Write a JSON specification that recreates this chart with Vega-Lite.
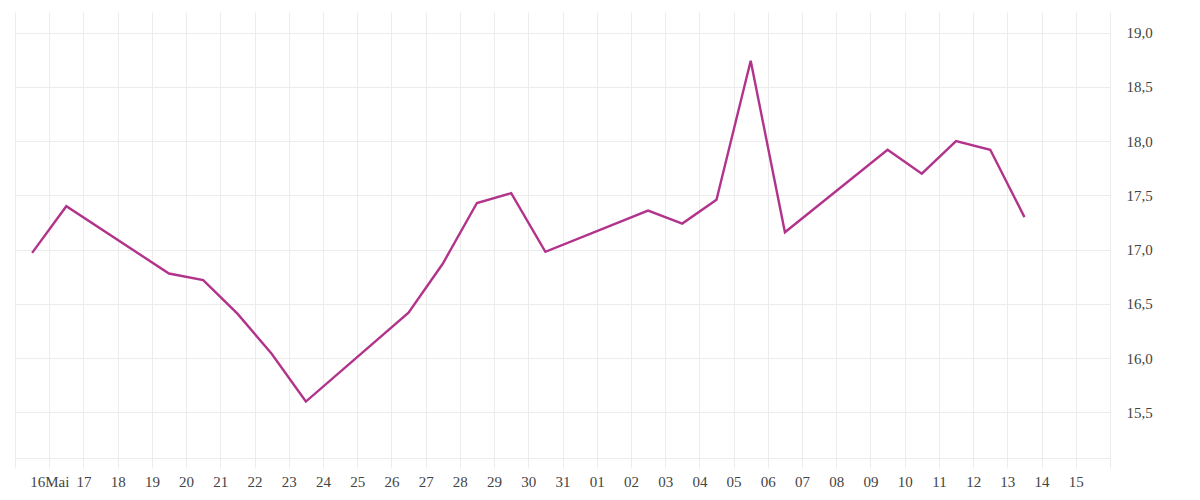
{
  "$schema": "https://vega.github.io/schema/vega-lite/v6.json",
  "width": 1095,
  "height": 446,
  "autosize": {"type": "none"},
  "padding": {"left": 15, "top": 12, "right": 90, "bottom": 42},
  "background": "white",
  "config": {"view": {"stroke": null}},
  "data": {
    "values": [
      {"date": "2025-05-15T12:00:00Z", "value": 16.97},
      {"date": "2025-05-16T12:00:00Z", "value": 17.40},
      {"date": "2025-05-19T12:00:00Z", "value": 16.78},
      {"date": "2025-05-20T12:00:00Z", "value": 16.72},
      {"date": "2025-05-21T12:00:00Z", "value": 16.41},
      {"date": "2025-05-22T12:00:00Z", "value": 16.04},
      {"date": "2025-05-23T12:00:00Z", "value": 15.60},
      {"date": "2025-05-26T12:00:00Z", "value": 16.42},
      {"date": "2025-05-27T12:00:00Z", "value": 16.87},
      {"date": "2025-05-28T12:00:00Z", "value": 17.43},
      {"date": "2025-05-29T12:00:00Z", "value": 17.52},
      {"date": "2025-05-30T12:00:00Z", "value": 16.98},
      {"date": "2025-06-02T12:00:00Z", "value": 17.36},
      {"date": "2025-06-03T12:00:00Z", "value": 17.24},
      {"date": "2025-06-04T12:00:00Z", "value": 17.46},
      {"date": "2025-06-05T12:00:00Z", "value": 18.74},
      {"date": "2025-06-06T12:00:00Z", "value": 17.16},
      {"date": "2025-06-09T12:00:00Z", "value": 17.92},
      {"date": "2025-06-10T12:00:00Z", "value": 17.70},
      {"date": "2025-06-11T12:00:00Z", "value": 18.00},
      {"date": "2025-06-12T12:00:00Z", "value": 17.92},
      {"date": "2025-06-13T12:00:00Z", "value": 17.30}
    ]
  },
  "mark": {"type": "line", "color": "#b2338b", "strokeWidth": 2.4, "strokeJoin": "miter"},
  "encoding": {
    "x": {
      "field": "date",
      "type": "temporal",
      "scale": {
        "type": "utc",
        "domain": [
          {"year": 2025, "month": "may", "date": 15, "utc": true},
          {"year": 2025, "month": "jun", "date": 16, "utc": true}
        ],
        "nice": false
      },
      "axis": {
        "title": null,
        "tickCount": {"interval": "day", "step": 1},
        "grid": true,
        "gridColor": "#ececec",
        "gridWidth": 1,
        "ticks": true,
        "tickColor": "#ececec",
        "tickSize": 10,
        "domain": true,
        "domainColor": "#ececec",
        "labelOverlap": false,
        "labelFlush": false,
        "labelPadding": 6,
        "labelFont": "Liberation Serif",
        "labelFontSize": 15,
        "labelColor": "#444",
        "labelExpr": "(utcmonth(datum.value) == 4 && utcdate(datum.value) == 15) || (utcmonth(datum.value) == 5 && utcdate(datum.value) == 16) ? '' : utcFormat(datum.value, '%d') + ((utcmonth(datum.value) == 4 && utcdate(datum.value) == 16) ? 'Mai' : '')"
      }
    },
    "y": {
      "field": "value",
      "type": "quantitative",
      "scale": {"domain": [15.08, 19.19], "nice": false, "zero": false},
      "axis": {
        "title": null,
        "orient": "right",
        "values": [15.5, 16, 16.5, 17, 17.5, 18, 18.5, 19],
        "grid": true,
        "gridColor": "#ececec",
        "ticks": false,
        "domain": false,
        "labelPadding": 16,
        "labelFont": "Liberation Serif",
        "labelFontSize": 15,
        "labelColor": "#444",
        "labelExpr": "replace(format(datum.value, '.1f'), '.', ',')"
      }
    }
  }
}
